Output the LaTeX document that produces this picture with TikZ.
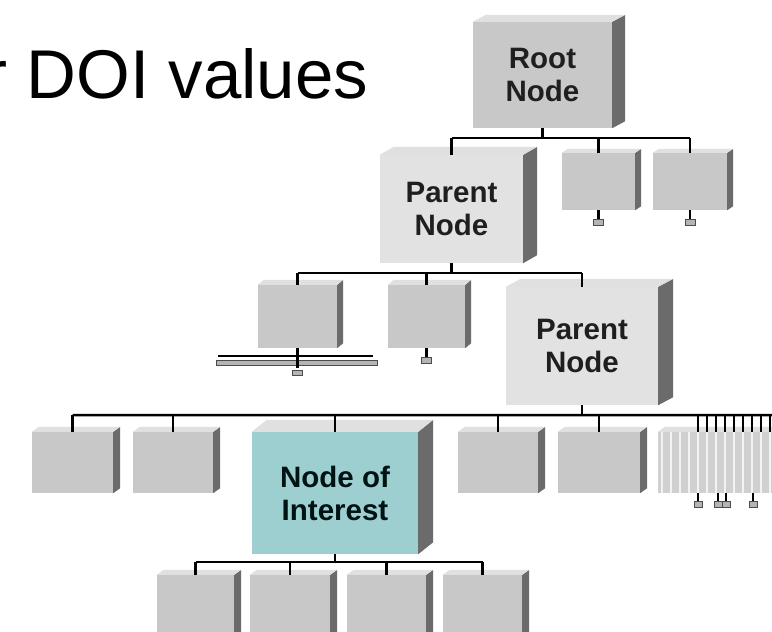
\documentclass[tikz,border=0pt]{standalone}
\usepackage{fontspec}
\setmainfont{Liberation Sans}
\definecolor{boxgrey}{HTML}{C8C8C8}
\definecolor{parentgrey}{HTML}{E2E2E2}
\definecolor{interest}{HTML}{9DCFD1}
\definecolor{sidegrey}{HTML}{6B6B6B}
\definecolor{topgrey}{HTML}{E0E0E0}
\definecolor{foldgrey}{HTML}{B4B4B4}
\begin{document}
\begin{tikzpicture}[x=1pt,y=-1pt,
  box/.style={rectangle, inner sep=0pt, fill=boxgrey, align=center,
    font=\fontsize{29.5}{33}\selectfont\bfseries, text=black!88},
  link/.style={line width=2.5pt, black},
  fold/.style={fill=foldgrey, draw=black!70, line width=0.6pt}]
  \useasboundingbox (0,0) rectangle (772,632);
  \clip (0,0) rectangle (772,632);
  % title (cut at the left edge)
  \node[anchor=base west, inner sep=0pt, font=\fontsize{69}{80}\selectfont] (title) at (-15.5,98) {r DOI values};
  % level 1 and 2
  \node[box, minimum width=139pt, minimum height=106pt] (root) at (542.5,75) {Root\\Node};
  \node[box, fill=parentgrey, minimum width=143pt, minimum height=108pt] (par1) at (451.5,209) {Parent\\Node};
  \node[box, minimum width=73pt, minimum height=57pt] (r1) at (598.5,181.5) {};
  \node[box, minimum width=74pt, minimum height=57pt] (r2) at (690,181.5) {};
  % level 3
  \node[box, minimum width=79pt, minimum height=63pt] (c1) at (297.5,316.5) {};
  \node[box, minimum width=77pt, minimum height=63pt] (c2) at (426.5,316.5) {};
  \node[box, fill=parentgrey, minimum width=152pt, minimum height=118pt] (par2) at (582,346) {Parent\\Node};
  % level 4
  \node[box, minimum width=81pt, minimum height=61pt] (l4a) at (72.5,462.5) {};
  \node[box, minimum width=80pt, minimum height=61pt] (l4b) at (173,462.5) {};
  \node[box, fill=interest, text=black!85!teal, minimum width=166pt, minimum height=122pt] (noi) at (335,493) {Node of\\Interest};
  \node[box, minimum width=80pt, minimum height=61pt] (l4e) at (498,462.5) {};
  \node[box, minimum width=82pt, minimum height=61pt] (l4f) at (599,462.5) {};
  \node[box, fill=boxgrey!85!white, minimum width=150pt, minimum height=61pt] (many) at (733,462.5) {};
  % level 5
  \node[box, minimum width=77pt, minimum height=70pt] (l5a) at (195.5,610) {};
  \node[box, minimum width=80pt, minimum height=70pt] (l5b) at (290,610) {};
  \node[box, minimum width=79pt, minimum height=70pt] (l5c) at (386.5,610) {};
  \node[box, minimum width=79pt, minimum height=70pt] (l5d) at (482.5,610) {};
  % side and top faces
  \foreach \n/\dx/\dy in {root/13/7, par1/14/8, par2/15/8, noi/15/12, r1/6/4, r2/6/4,
      c1/6/5, c2/6/5, l4a/7/5, l4b/7/5, l4e/7/5, l4f/7/5, many/7/5,
      l5a/7/5, l5b/7/5, l5c/7/5, l5d/7/5} {
    \fill[sidegrey] (\n.north east) -- ++(\dx,-\dy) -- ([shift={(\dx,-\dy)}]\n.south east) -- (\n.south east) -- cycle;
    \fill[topgrey] (\n.north west) -- ++(\dx,-\dy) -- ([shift={(\dx,-\dy)}]\n.north east) -- (\n.north east) -- cycle;
  }
  % stripes of the collapsed group
  \foreach \i in {0,...,15} {
    \draw[white!90!gray, line width=1.5pt] ([xshift=4pt+\i*9pt]many.south west) -- ([xshift=4pt+\i*9pt]many.north west);
  }
  % root bus
  \draw[link] (root.south) -- ++(0,10) coordinate (rootbus);
  \draw[link] (par1.north |- rootbus) -- (r2.north |- rootbus);
  \foreach \c in {par1,r1,r2} \draw[link] (\c.north |- rootbus) -- (\c.north);
  % first parent bus
  \draw[link] (par1.south) -- ++(0,10) coordinate (par1bus);
  \draw[link] (c1.north |- par1bus) -- (par2.north |- par1bus);
  \foreach \c in {c1,c2,par2} \draw[link] (\c.north |- par1bus) -- (\c.north);
  % second parent bus
  \coordinate (busend) at (772,415);
  \draw[link] (par2.south) -- ++(0,10) coordinate (par2bus);
  \draw[link] (l4a.north |- par2bus) -- (busend);
  \foreach \c in {l4a,l4b,noi,l4e,l4f} \draw[link] (\c.north |- par2bus) -- (\c.north);
  \foreach \i in {0,...,8} \draw[link, line width=1.8pt] ([xshift=40pt+\i*9pt]many.north west) -- ++(0,-17);
  % bus below the node of interest
  \draw[link] (noi.south) -- ++(0,8) coordinate (noibus);
  \draw[link] (l5a.north |- noibus) -- (l5d.north |- noibus);
  \foreach \c in {l5a,l5b,l5c,l5d} \draw[link] (\c.north |- noibus) -- (\c.north);
  % collapsed subtrees
  \foreach \n in {r1,r2,c2} {
    \draw[link] (\n.south) -- ++(0,9);
    \draw[fold] ([xshift=-5pt,yshift=-9pt]\n.south) rectangle ([xshift=5pt,yshift=-15pt]\n.south);
  }
  \draw[link] (c1.south) -- ++(0,8) coordinate (c1bus);
  \draw[link] ([xshift=-80pt]c1bus) -- ([xshift=75pt]c1bus);
  \draw[fold] ([xshift=-81pt,yshift=-4pt]c1bus) rectangle ([xshift=80pt,yshift=-9pt]c1bus);
  \draw[link] (c1bus) -- ++(0,12);
  \draw[fold] ([xshift=-5pt,yshift=-14pt]c1bus) rectangle ([xshift=5pt,yshift=-19pt]c1bus);
  \foreach \x in {40,60,68,95} {
    \draw[link, line width=1.8pt] ([xshift=\x pt]many.south west) -- ++(0,8);
    \draw[fold] ([xshift=\x pt-4pt,yshift=-8pt]many.south west) rectangle ([xshift=\x pt+4pt,yshift=-14pt]many.south west);
  }
\end{tikzpicture}
\end{document}
